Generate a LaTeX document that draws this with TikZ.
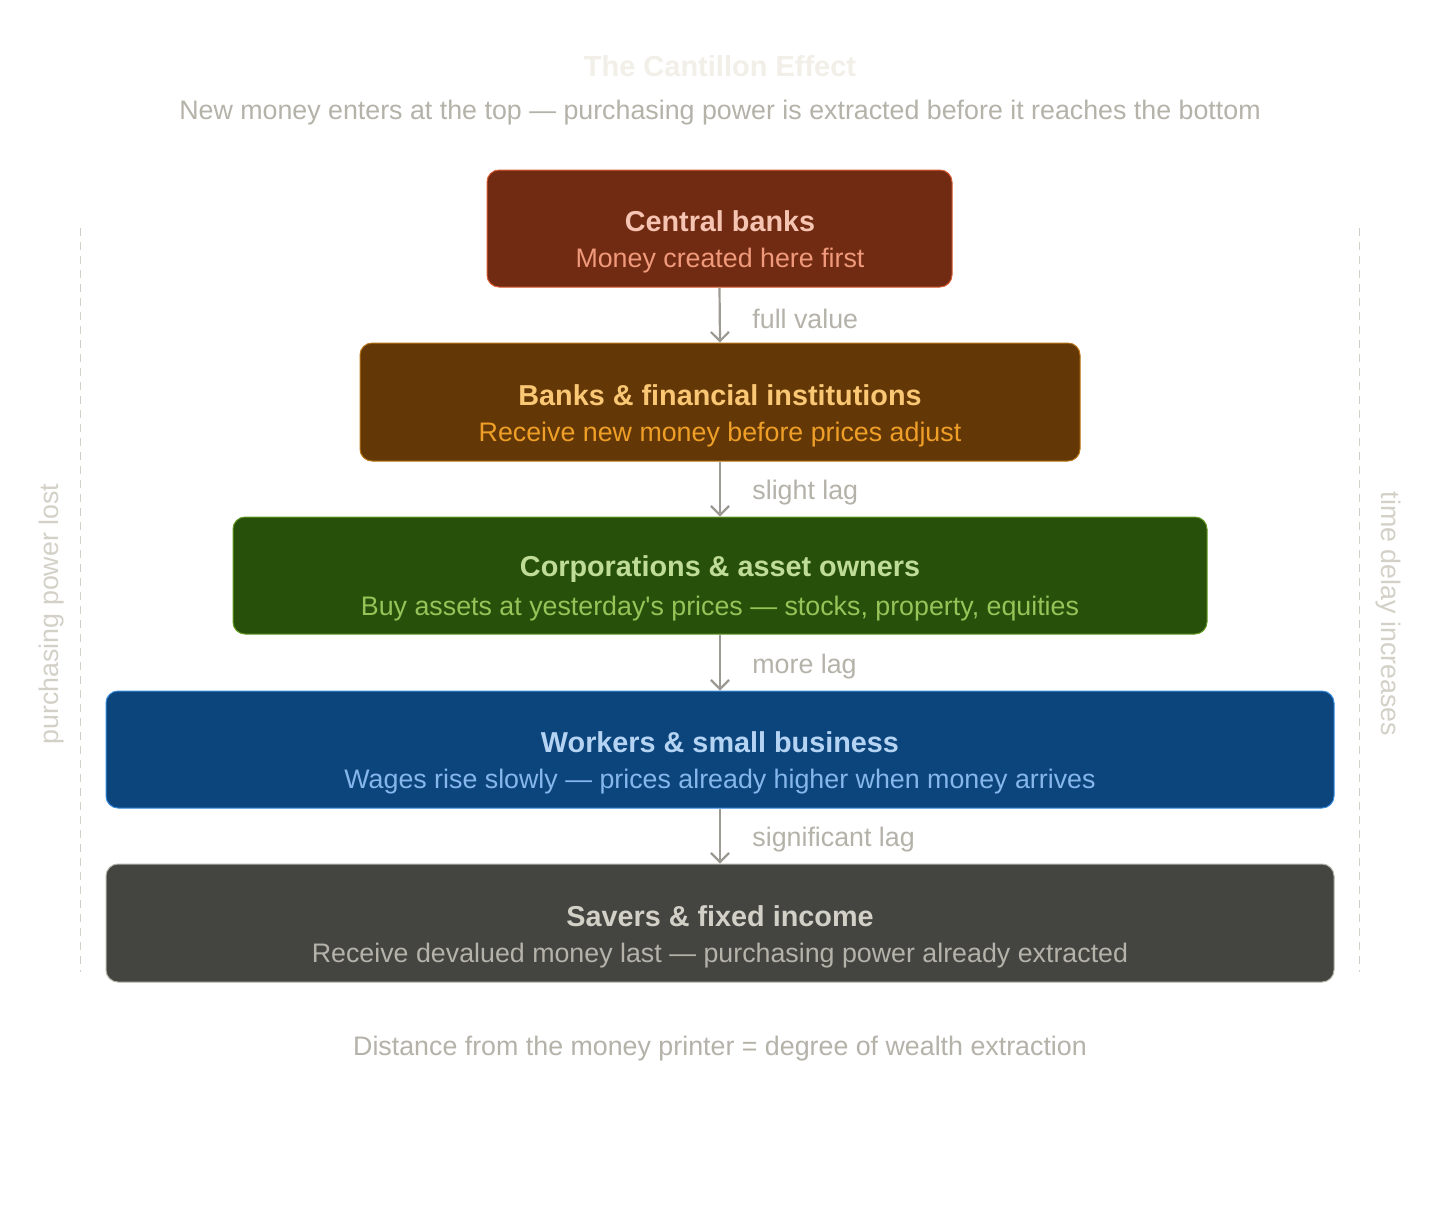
\documentclass[tikz,border=0pt]{standalone}
\usepackage{fontspec}
\setmainfont{Liberation Sans}
\usetikzlibrary{arrows.meta}
\definecolor{txtgray}{HTML}{B4B2A9}
\definecolor{lightgray}{HTML}{D3D1C7}
\definecolor{titlegray}{HTML}{F1EFE8}
\definecolor{arrowgray}{HTML}{9C9A92}
\definecolor{fA}{HTML}{712B13}\definecolor{bA}{HTML}{D85A30}\definecolor{tA}{HTML}{F5C4B3}\definecolor{sA}{HTML}{F0997B}
\definecolor{fB}{HTML}{633806}\definecolor{bB}{HTML}{BA7517}\definecolor{tB}{HTML}{FAC775}\definecolor{sB}{HTML}{EF9F27}
\definecolor{fC}{HTML}{27500A}\definecolor{bC}{HTML}{639922}\definecolor{tC}{HTML}{C0DD97}\definecolor{sC}{HTML}{97C459}
\definecolor{fD}{HTML}{0C447C}\definecolor{bD}{HTML}{378ADD}\definecolor{tD}{HTML}{B5D4F4}\definecolor{sD}{HTML}{85B7EB}
\definecolor{fE}{HTML}{444441}\definecolor{bE}{HTML}{B4B2A9}\definecolor{tE}{HTML}{D3D1C7}\definecolor{sE}{HTML}{B4B2A9}
\newcommand{\regfont}{\fontsize{13.4}{16}\selectfont}
\tikzset{
  tier/.style={rounded corners=6pt, line width=0.5pt, inner sep=0pt},
  ttl/.style={font=\fontsize{14.4}{17}\selectfont\bfseries, anchor=center, inner sep=0pt},
  sub/.style={font=\regfont, anchor=center, inner sep=0pt},
  flow/.style={draw=arrowgray, line width=1.1pt, -{Straight Barb[length=4.5pt,width=9pt,line width=1.1pt]}},
  lbl/.style={font=\regfont, text=txtgray, anchor=west, inner sep=0pt},
  side/.style={draw=lightgray, line width=0.5pt, dash pattern=on 4pt off 3pt},
}
\begin{document}
\begin{tikzpicture}[x=0.5pt,y=-0.5pt]
\useasboundingbox (0,0) rectangle (1440,1228);
\fill[white] (0,0) rectangle (1440,1228);
\node[font=\fontsize{14.5}{17}\selectfont\bfseries, text=titlegray] (title) at (720,66) {The Cantillon Effect};
\node[font=\regfont, text=txtgray] (subtitle) at (720,113) {New money enters at the top — purchasing power is extracted before it reaches the bottom};
% boxes
\draw[tier, fill=fA, draw=bA] (487,170) rectangle (952,287);
\node[tier, minimum width=232.5pt, minimum height=58.5pt] (n1) at (719.5,228.5) {};
\node[ttl, text=tA] (t1) at (720,221) {Central banks};
\node[sub, text=sA] (s1) at (720,261) {Money created here first};
\draw[tier, fill=fB, draw=bB] (360,343) rectangle (1080,461);
\node[tier, minimum width=360pt, minimum height=59pt] (n2) at (720,402) {};
\node[ttl, text=tB] (t2) at (720,395) {Banks \& financial institutions};
\node[sub, text=sB] (s2) at (720,435) {Receive new money before prices adjust};
\draw[tier, fill=fC, draw=bC] (233,517) rectangle (1207,634);
\node[tier, minimum width=487pt, minimum height=58.5pt] (n3) at (720,575.5) {};
\node[ttl, text=tC] (t3) at (720,569) {Corporations \& asset owners};
\node[sub, text=sC] (s3) at (720,609) {Buy assets at yesterday\textquotesingle s prices — stocks, property, equities};
\draw[tier, fill=fD, draw=bD] (106,691) rectangle (1334,808);
\node[tier, minimum width=614pt, minimum height=58.5pt] (n4) at (720,749.5) {};
\node[ttl, text=tD] (t4) at (720,742) {Workers \& small business};
\node[sub, text=sD] (s4) at (720,782) {Wages rise slowly — prices already higher when money arrives};
\draw[tier, fill=fE, draw=bE] (106,864) rectangle (1334,982);
\node[tier, minimum width=614pt, minimum height=59pt] (n5) at (720,923) {};
\node[ttl, text=tE] (t5) at (720,916) {Savers \& fixed income};
\node[sub, text=sE] (s5) at (720,956) {Receive devalued money last — purchasing power already extracted};
% arrows
\draw[flow] (n1.south) -- (n2.north);
\draw[flow] (n2.south) -- (n3.north);
\draw[flow] (n3.south) -- (n4.north);
\draw[flow] (n4.south) -- (n5.north);
\node[lbl] (l1) at (752,319) {full value};
\node[lbl] (l2) at (752,493) {slight lag};
\node[lbl] (l3) at (752,667) {more lag};
\node[lbl] (l4) at (752,840) {significant lag};
% side
\coordinate (lt) at (80,228); \coordinate (lb) at (80,972);
\coordinate (rt) at (1359,228); \coordinate (rb) at (1359,972);
\draw[side] (lt) -- (lb);
\draw[side] (rt) -- (rb);
\node[font=\regfont, text=lightgray, rotate=90] (pl) at (52,614) {purchasing power lost};
\node[font=\regfont, text=lightgray, rotate=-90] (td) at (1388,614) {time delay increases};
\node[font=\regfont, text=txtgray] (foot) at (720,1049) {Distance from the money printer = degree of wealth extraction};
\end{tikzpicture}
\end{document}
